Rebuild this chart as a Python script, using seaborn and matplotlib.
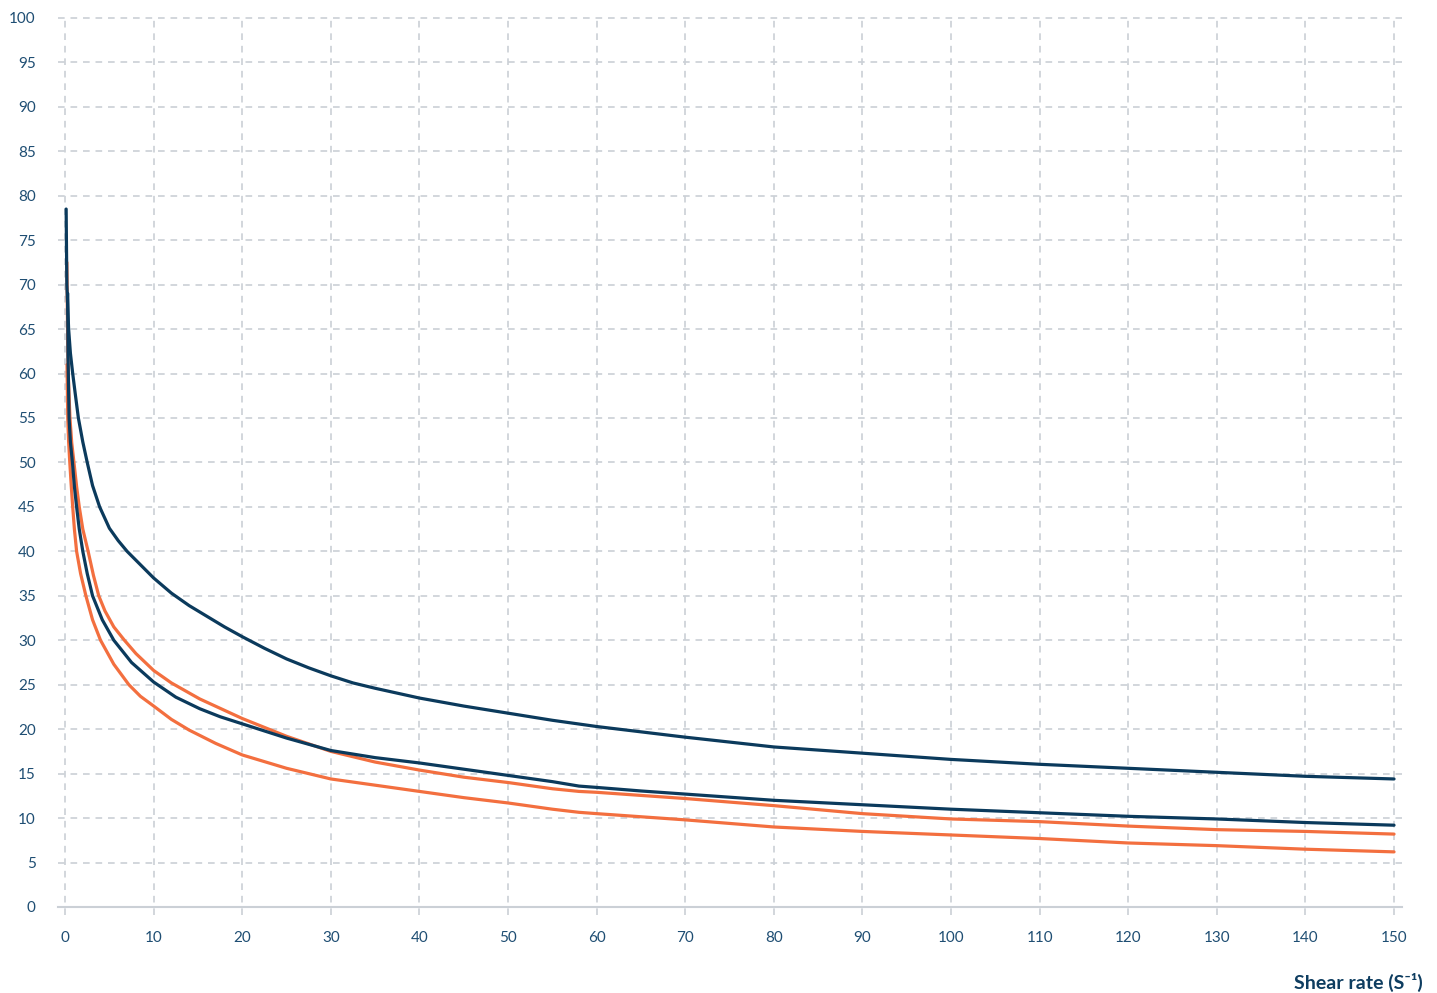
import numpy as np
import pandas as pd
import seaborn as sns
import matplotlib.pyplot as plt
from matplotlib.ticker import MultipleLocator

# ---- data ----
x_dark_top = [0.12, 0.16, 0.2, 0.4, 0.6, 0.86, 1.15, 1.5, 2.0, 2.5, 3.1, 3.9, 5.0, 6.0,
              7.0, 8.5, 10, 12, 14, 16, 18, 20, 22.5, 25, 27.5, 30, 32.5, 35, 40, 45, 50,
              55, 60, 70, 80, 90, 100, 110, 120, 130, 140, 150]
y_dark_top = [78.5, 74, 70, 65, 62.3, 60, 57.7, 55, 52.3, 50, 47.4, 45, 42.6, 41.2,
              40.0, 38.5, 37.0, 35.3, 33.9, 32.7, 31.5, 30.4, 29.1, 27.9, 26.9, 26.0, 25.2, 24.6, 23.5, 22.6, 21.8,
              21.0, 20.3, 19.1, 18.0, 17.3, 16.6, 16.05, 15.6, 15.15, 14.7, 14.4]

x_orange_top = [0.2, 0.3, 0.35, 0.55, 0.75, 1.0, 1.3, 1.6, 2.0, 2.6, 3.2, 3.8, 4.5, 5.5,
                6.7, 8, 10, 12, 15.2, 20, 25, 30, 35, 40, 45, 50, 55, 58, 60, 70, 80,
                90, 100, 110, 120, 130, 140, 150]
y_orange_top = [72.5, 63, 60, 55, 52.2, 50, 47.3, 45, 42.5, 40, 37.3, 35, 33.3, 31.5,
                30, 28.5, 26.6, 25.2, 23.4, 21.2, 19.2, 17.5, 16.3, 15.4, 14.6, 14.0, 13.3, 13.0, 12.9, 12.2, 11.4,
                10.5, 9.9, 9.6, 9.1, 8.7, 8.5, 8.2]

x_dark_low = [0.3, 0.33, 0.45, 0.6, 0.83, 1.05, 1.3, 1.6, 2.0, 2.5, 3.1, 4.2, 5.5, 7.5,
              10, 12.5, 15.2, 17.5, 20, 25, 30, 35, 40, 45, 50, 55, 58, 60, 65, 70,
              80, 90, 100, 110, 120, 130, 140, 150]
y_dark_low = [69, 62, 55, 52.3, 50, 47.3, 45, 42.5, 40, 37.5, 35, 32.3, 30, 27.5,
              25.3, 23.6, 22.3, 21.4, 20.6, 19.0, 17.6, 16.8, 16.2, 15.5, 14.8, 14.1, 13.6, 13.45, 13.05, 12.7,
              12.0, 11.5, 11.0, 10.6, 10.2, 9.9, 9.5, 9.2]

x_orange_low = [0.22, 0.3, 0.4, 0.53, 0.7, 0.86, 1.05, 1.3, 1.75, 2.35, 3.1, 4.0, 5.5, 7.2,
                8.5, 10, 12, 14, 17, 20, 25, 30, 35, 40, 45, 50, 55, 58, 60, 65, 70,
                80, 90, 100, 110, 120, 130, 140, 150]
y_orange_low = [61, 55, 52.3, 50, 47.3, 45, 42.5, 40, 37.5, 35, 32.3, 30, 27.3, 25,
                23.7, 22.6, 21.1, 19.9, 18.4, 17.1, 15.6, 14.4, 13.7, 13.0, 12.3, 11.7, 11.0, 10.65, 10.5, 10.15, 9.8,
                9.0, 8.5, 8.1, 7.7, 7.2, 6.9, 6.5, 6.2]

x_ticks = list(range(0, 151, 10))
y_ticks = list(range(0, 101, 5))

series = {
    'orange_low': (x_orange_low, y_orange_low),
    'orange_top': (x_orange_top, y_orange_top),
    'dark_low': (x_dark_low, y_dark_low),
    'dark_top': (x_dark_top, y_dark_top),
}
DARK = '#0b3a5c'
ORANGE = '#f36f3f'
palette = {'orange_low': ORANGE, 'orange_top': ORANGE, 'dark_low': DARK, 'dark_top': DARK}

df = pd.concat([pd.DataFrame({'x': xs, 'y': ys, 'serie': nome})
                for nome, (xs, ys) in series.items()], ignore_index=True)

# ---- style ----
sns.set_style('white')
plt.rcParams['font.family'] = ['Lato', 'DejaVu Sans']
TXT = '#1f4e73'
GRID = '#cbd0d6'

fig = plt.figure(figsize=(14.37, 9.93), dpi=100)
ax = fig.add_axes([58 / 1437, 1 - 915 / 993, (1402 - 58) / 1437, (915 - 17) / 993])

sns.lineplot(data=df, x='x', y='y', hue='serie', palette=palette, hue_order=list(series),
             estimator=None, sort=False, linewidth=2.3, legend=False, ax=ax, zorder=3)
for line in ax.lines:
    line.set_solid_joinstyle('round')

ax.set_xlim(-0.8, 150.9)
ax.set_ylim(-0.9, 100.1)
ax.set_xticks(x_ticks)
ax.set_yticks(y_ticks)
ax.xaxis.set_minor_locator(MultipleLocator(2))
ax.grid(True, which='major', color=GRID, linestyle=(0, (4, 3.5)), linewidth=1.2, zorder=0)

for s in ['top', 'right', 'left']:
    ax.spines[s].set_visible(False)
ax.spines['bottom'].set_position(('data', 0))
ax.spines['bottom'].set_color(GRID)
ax.spines['bottom'].set_linewidth(1.5)
ax.spines['bottom'].set_zorder(1)

ax.tick_params(axis='x', which='major', length=0, pad=17, labelsize=11, labelcolor=TXT)
ax.tick_params(axis='x', which='minor', direction='inout', length=9, width=1.3, color='#bfc5cc')
ax.tick_params(axis='y', which='major', length=0, pad=16, labelsize=11, labelcolor=TXT)
ax.set_xlabel('')
ax.set_ylabel('')

fig.text(1423 / 1437, 1 - 982 / 993, 'Shear rate (S\u207b\u00b9)', ha='right', va='center',
         fontsize=14, fontweight='bold', color='#0e3d60')

plt.savefig('out.png', dpi=100)
plt.close('all')
